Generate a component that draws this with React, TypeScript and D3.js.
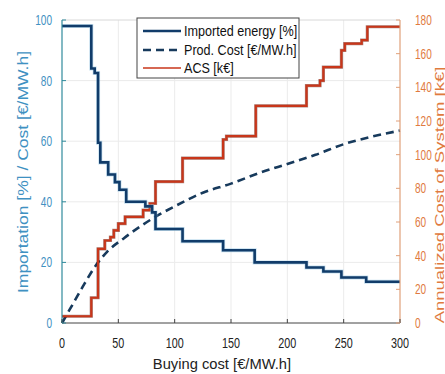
import * as d3 from "d3";

// ---------------------------------------------------------------------------
// Data
// ---------------------------------------------------------------------------

const importX = [0, 26, 29, 32, 34, 41, 47, 51, 57, 74, 80, 83, 107, 143, 171, 217, 232, 248, 270, 300];
const importY = [98, 84, 82.5, 59.5, 53, 49, 46.5, 44, 40, 38.5, 36.5, 31, 27, 24, 20, 18.3, 17, 15, 13.6, 13.6];

const costX = [0, 10, 20, 30, 40, 55, 70, 85, 100, 125, 150, 175, 200, 225, 250, 275, 300];
const costY = [0, 6.5, 13, 19, 23.5, 28, 32, 35.5, 38.5, 43, 46, 49.5, 52.5, 55.5, 59, 61.5, 63.5];

const acsX = [0, 26, 32, 38, 43, 46, 50, 56, 72, 78, 83, 107, 143, 146, 172, 217, 229, 232, 248, 251, 266, 271, 300];
const acsY = [4, 15, 44, 49, 51, 55, 59, 63, 67, 71, 84, 98, 109, 111, 129, 141, 144, 152, 162, 166, 168, 176, 176];

const xTicks = [0, 50, 100, 150, 200, 250, 300];
const leftTicks = [0, 20, 40, 60, 80, 100];
const rightTicks = [0, 20, 40, 60, 80, 100, 120, 140, 160, 180];

const legendLabels = ["Imported energy [%]", "Prod. Cost [\u20ac/MW.h]", "ACS [k\u20ac]"];

// ---------------------------------------------------------------------------
// Palette / layout
// ---------------------------------------------------------------------------

const BLUE = "#113c6a";
const DASH = "#173a5c";
const RED = "#c8361a";
const LEFT_AXIS = "#2f8a9c";
const LEFT_TEXT = "#3f91c2";
const RIGHT_AXIS = "#e0a07a";
const RIGHT_TEXT = "#e07a3e";
const GRID = "#ebebeb";
const FONT = "'Liberation Sans', Arial, sans-serif";
const SX = 0.72; // tick text in the reference is horizontally squeezed

const W = 445;
const H = 374;
const MARGIN = { top: 20, right: 45, bottom: 51, left: 62 };

type Pt = [number, number];
const zip = (xs: number[], ys: number[]): Pt[] => xs.map((x, i) => [x, ys[i]]);

function SqText({
  x,
  y,
  rotate,
  sx = SX,
  children,
  ...rest
}: {
  x: number;
  y: number;
  rotate?: number;
  sx?: number;
  children: React.ReactNode;
  [k: string]: any;
}) {
  return (
    <text
      transform={`translate(${x},${y}) scale(${sx},1)${rotate ? ` rotate(${rotate})` : ""}`}
      fontFamily={FONT}
      {...rest}
    >
      {children}
    </text>
  );
}

export default function App() {
  const innerW = W - MARGIN.left - MARGIN.right;
  const innerH = H - MARGIN.top - MARGIN.bottom;

  const x = d3.scaleLinear().domain([0, 300]).range([0, innerW]);
  const yL = d3.scaleLinear().domain([0, 100]).range([innerH, 0]);
  const yR = d3.scaleLinear().domain([0, 180]).range([innerH, 0]);

  const stepL = d3
    .line<Pt>()
    .x((d) => x(d[0]))
    .y((d) => yL(d[1]))
    .curve(d3.curveStepAfter);
  const stepR = d3
    .line<Pt>()
    .x((d) => x(d[0]))
    .y((d) => yR(d[1]))
    .curve(d3.curveStepAfter);
  const smooth = d3
    .line<Pt>()
    .x((d) => x(d[0]))
    .y((d) => yL(d[1]))
    .curve(d3.curveMonotoneX);

  const importPath = stepL(zip(importX, importY)) ?? "";
  const acsPath = stepR(zip(acsX, acsY)) ?? "";
  const costPath = smooth(zip(costX, costY)) ?? "";

  // legend box (absolute px)
  const LG = { x: 137, y: 18, w: 162, h: 60 };
  const rowY = [31, 50, 68];

  return (
    <svg width={W} height={H} style={{ position: "absolute", left: 0, top: 0, background: "white" }}>
      <g transform={`translate(${MARGIN.left},${MARGIN.top})`}>
        {/* grid */}
        {xTicks.slice(1, -1).map((t) => (
          <line key={`gx${t}`} x1={x(t)} x2={x(t)} y1={0} y2={innerH} stroke={GRID} />
        ))}
        {leftTicks.slice(1, -1).map((t) => (
          <line key={`gy${t}`} x1={0} x2={innerW} y1={yL(t)} y2={yL(t)} stroke={GRID} />
        ))}

        {/* series */}
        <path d={costPath} fill="none" stroke={DASH} strokeWidth={2.6} strokeDasharray="8,5" />
        <path d={acsPath} fill="none" stroke="#5a1a10" strokeWidth={3.2} strokeOpacity={0.5} />
        <path d={acsPath} fill="none" stroke={RED} strokeWidth={2.2} />
        <path d={importPath} fill="none" stroke="#8cc0e0" strokeWidth={4} strokeOpacity={0.5} />
        <path d={importPath} fill="none" stroke={BLUE} strokeWidth={2.6} />

        {/* axes */}
        <line x1={0} x2={innerW} y1={innerH} y2={innerH} stroke="#444" strokeWidth={1} />
        <line x1={0} x2={innerW} y1={0} y2={0} stroke="#d8d8d8" strokeWidth={1} />
        <line x1={0} x2={0} y1={0} y2={innerH} stroke={LEFT_AXIS} strokeWidth={1.2} />
        <line x1={innerW} x2={innerW} y1={0} y2={innerH} stroke={RIGHT_AXIS} strokeWidth={1.2} />

        {xTicks.map((t) => (
          <g key={`xt${t}`}>
            <line x1={x(t)} x2={x(t)} y1={innerH} y2={innerH - 4} stroke="#444" />
            <SqText x={x(t)} y={innerH + 25} textAnchor="middle" fontSize={15} fill="#222">
              {t}
            </SqText>
          </g>
        ))}
        {leftTicks.map((t) => (
          <g key={`lt${t}`}>
            <line x1={0} x2={4} y1={yL(t)} y2={yL(t)} stroke={LEFT_AXIS} />
            <SqText x={-10} y={yL(t) + 5} textAnchor="end" fontSize={14} fill={LEFT_TEXT}>
              {t}
            </SqText>
          </g>
        ))}
        {rightTicks.map((t) => (
          <g key={`rt${t}`}>
            <line x1={innerW} x2={innerW - 4} y1={yR(t)} y2={yR(t)} stroke={RIGHT_AXIS} />
            <SqText x={innerW + 15} y={yR(t) + 5} textAnchor="start" fontSize={14} fill={RIGHT_TEXT}>
              {t}
            </SqText>
          </g>
        ))}
      </g>

      {/* axis titles */}
      <SqText x={222} y={369} sx={0.95} textAnchor="middle" fontSize={15.5} fill="#222">
        Buying cost [{"\u20ac"}/MW.h]
      </SqText>
      <SqText x={28} y={172} sx={0.82} rotate={-90} textAnchor="middle" fontSize={17.5} fill={LEFT_TEXT}>
        Importation [%] / Cost [{"\u20ac"}/MW.h]
      </SqText>
      <SqText x={444} y={195} sx={0.68} rotate={-90} textAnchor="middle" fontSize={18.5} fill={RIGHT_TEXT}>
        Annualized Cost of System [k{"\u20ac"}]
      </SqText>

      {/* legend */}
      <rect x={LG.x} y={LG.y} width={LG.w} height={LG.h} fill="white" stroke="#444" strokeWidth={1} />
      <line x1={LG.x + 6} x2={LG.x + 44} y1={rowY[0]} y2={rowY[0]} stroke={BLUE} strokeWidth={2.6} />
      <line x1={LG.x + 6} x2={LG.x + 44} y1={rowY[1]} y2={rowY[1]} stroke={DASH} strokeWidth={2.6} strokeDasharray="8,5" />
      <line x1={LG.x + 6} x2={LG.x + 44} y1={rowY[2]} y2={rowY[2]} stroke={RED} strokeWidth={1.4} />
      {legendLabels.map((l, i) => (
        <SqText key={l} x={LG.x + 47} y={rowY[i] + 4.5} fontSize={14} sx={0.9} fill="#111">
          {l}
        </SqText>
      ))}
    </svg>
  );
}
